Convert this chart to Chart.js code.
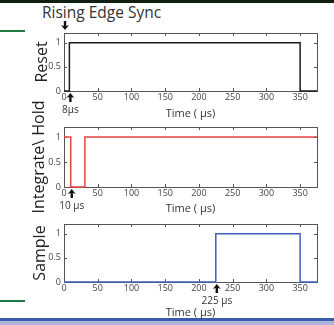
<!DOCTYPE html>
<html>
<head>
<meta charset="utf-8">
<script src="https://cdn.jsdelivr.net/npm/chart.js@4/dist/chart.umd.min.js"></script>
<style>
  body { margin: 0; background: #fff; }
  #page { position: relative; width: 334px; height: 325px; overflow: hidden; }
  #page canvas { position: absolute; left: 0; top: 0; }
  .band { position: absolute; left: 0; }
  #title { position: absolute; left: 42px; top: 5px; font: 15.5px "Open Sans"; line-height: 15px; color: #333; white-space: nowrap; }
</style>
</head>
<body>
<div id="page">
  <div class="band" style="top:0;width:334px;height:3px;background:#0f1f12"></div>
  <div class="band" style="top:30px;width:25px;height:2px;background:#1e7a45"></div>
  <div class="band" style="top:300px;width:25px;height:2px;background:#1e7a45"></div>
  <div class="band" style="top:318px;width:334px;height:3px;background:#3a5aaa"></div>
  <div class="band" style="top:321px;width:334px;height:4px;background:#aab4d6"></div>
  <div id="title">Rising Edge Sync</div>
  <canvas id="c1" width="334" height="325"></canvas>
  <canvas id="c2" width="334" height="325"></canvas>
  <canvas id="c3" width="334" height="325"></canvas>
</div>
<script>
// time axis (μs) and levels
var xMax = 375;
var xTicks = [0, 50, 100, 150, 200, 250, 300, 350];
var yTicks = [0, 0.5, 1];

var resetTime = [0, 8, 350, 375];
var resetLevel = [0, 1, 0, 0];
var holdTime = [0, 10, 31, 375];
var holdLevel = [1, 0, 1, 1];
var sampleTime = [0, 225, 350, 375];
var sampleLevel = [0, 1, 0, 0];

function drawArrow(ctx, x, tip, dir) {
  ctx.beginPath();
  ctx.moveTo(x, tip);
  ctx.lineTo(x - 4, tip + 5 * dir);
  ctx.lineTo(x - 1.2, tip + 4 * dir);
  ctx.lineTo(x - 1.2, tip + 9 * dir);
  ctx.lineTo(x + 1.2, tip + 9 * dir);
  ctx.lineTo(x + 1.2, tip + 4 * dir);
  ctx.lineTo(x + 4, tip + 5 * dir);
  ctx.closePath();
  ctx.fill();
}

// box with inward ticks (matlab style) + arrow marks
var signalBox = {
  id: 'signalBox',
  beforeDatasetsDraw: function(chart) {
    var ctx = chart.ctx, a = chart.chartArea, x = chart.scales.x, y = chart.scales.y;
    ctx.save();
    ctx.strokeStyle = '#555';
    ctx.lineWidth = 1;
    ctx.strokeRect(Math.round(a.left) + 0.5, Math.round(a.top) + 0.5,
      Math.round(a.right - a.left), Math.round(a.bottom - a.top));
    ctx.beginPath();
    xTicks.forEach(function(v) {
      var px = Math.round(x.getPixelForValue(v)) + 0.5;
      ctx.moveTo(px, a.bottom); ctx.lineTo(px, a.bottom - 3);
      ctx.moveTo(px, a.top); ctx.lineTo(px, a.top + 3);
    });
    yTicks.forEach(function(v) {
      var py = Math.round(y.getPixelForValue(v)) + 0.5;
      ctx.moveTo(a.left, py); ctx.lineTo(a.left + 3, py);
      ctx.moveTo(a.right, py); ctx.lineTo(a.right - 3, py);
    });
    ctx.stroke();
    ctx.restore();
  },
  afterDraw: function(chart, args, opts) {
    var ctx = chart.ctx, a = chart.chartArea, x = chart.scales.x;
    ctx.save();
    ctx.fillStyle = '#111';
    (opts.marks || []).forEach(function(m) {
      var px = x.getPixelForValue(m.t) + 1;
      if (m.dir < 0) {
        drawArrow(ctx, px, m.tip, -1);
      } else {
        drawArrow(ctx, px, a.bottom + 2, 1);
        ctx.fillStyle = '#333';
        ctx.font = '10px "Open Sans"';
        ctx.textAlign = 'center';
        ctx.textBaseline = 'middle';
        ctx.fillText(m.label, px, a.bottom + 19);
        ctx.fillStyle = '#111';
      }
    });
    ctx.restore();
  }
};
Chart.register(signalBox);

function panel(id, times, levels, color, yTitle, g) {
  var xAxisH = g.titleY + 6.6 - g.bottom;
  return new Chart(document.getElementById(id), {
    type: 'line',
    data: {
      datasets: [{
        data: times.map(function(t, i) { return { x: t, y: levels[i] }; }),
        stepped: 'before',
        borderColor: color,
        borderWidth: 1.5,
        pointRadius: 0,
        fill: false,
        clip: false
      }]
    },
    options: {
      responsive: false,
      animation: false,
      layout: { padding: { left: 0, top: g.top, right: 17, bottom: 325 - g.bottom - xAxisH } },
      plugins: {
        legend: { display: false },
        tooltip: { enabled: false },
        signalBox: { marks: g.marks }
      },
      scales: {
        x: {
          type: 'linear', min: 0, max: xMax,
          afterBuildTicks: function(s) { s.ticks = xTicks.map(function(v) { return { value: v }; }); },
          afterFit: function(s) { s.height = xAxisH; },
          grid: { display: false, drawTicks: false },
          border: { display: false },
          ticks: { font: { family: 'Open Sans', size: 9 }, color: '#444', padding: 1, maxRotation: 0, autoSkip: false,
            callback: function(v) { return String(v); } },
          title: { display: true, text: 'Time ( μs)', font: { family: 'Open Sans', size: 11 }, color: '#333', padding: 0 }
        },
        y: {
          min: 0, max: 1.2,
          afterBuildTicks: function(s) { s.ticks = yTicks.map(function(v) { return { value: v }; }); },
          afterFit: function(s) { s.width = 64; },
          grid: { display: false, drawTicks: false },
          border: { display: false },
          ticks: { font: { family: 'Open Sans', size: 9 }, color: '#444', padding: 3,
            callback: function(v) { return String(v); } },
          title: { display: true, text: yTitle, font: { family: 'Open Sans', size: 16 }, color: '#222', padding: { top: g.titlePad, bottom: 0 } }
        }
      }
    }
  });
}

panel('c1', resetTime, resetLevel, '#1a1a1a', 'Reset',
  { top: 33, bottom: 91, titleY: 114, titlePad: 33,
    marks: [{ t: 0, dir: -1, tip: 30 }, { t: 8, label: '8μs' }] });
panel('c2', holdTime, holdLevel, '#e8433f', 'Integrate\\ Hold',
  { top: 127, bottom: 187, titleY: 209, titlePad: 30,
    marks: [{ t: 10, label: '10 μs' }] });
panel('c3', sampleTime, sampleLevel, '#3f5fbf', 'Sample',
  { top: 224, bottom: 282, titleY: 313, titlePad: 31,
    marks: [{ t: 225, label: '225 μs' }] });
</script>
</body>
</html>
